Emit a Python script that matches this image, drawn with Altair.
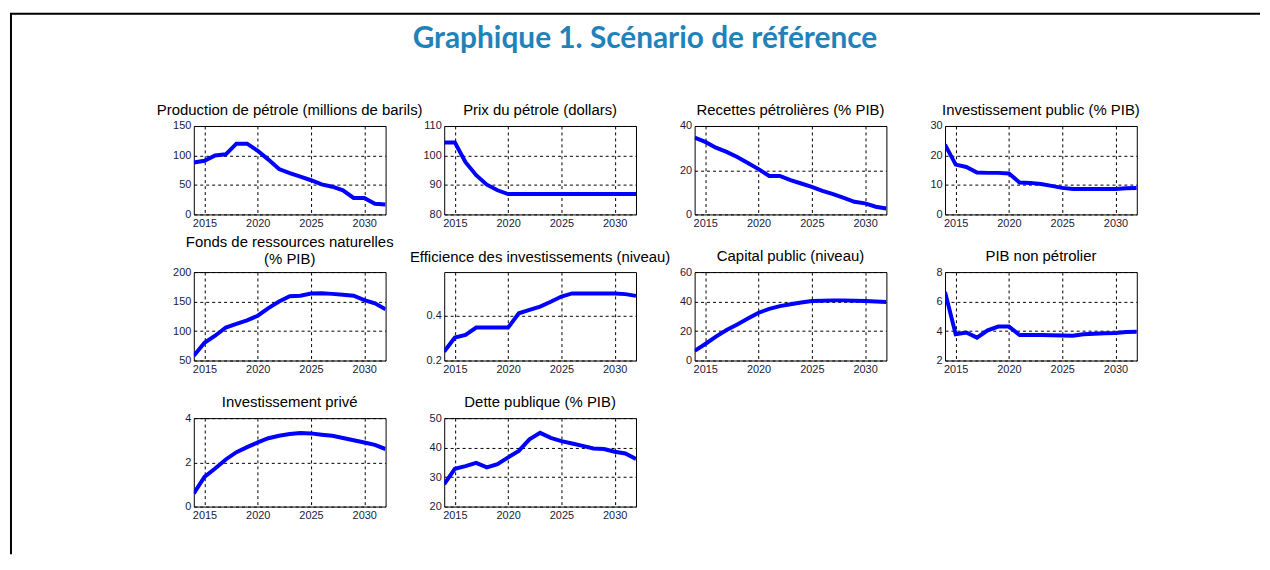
import altair as alt
import pandas as pd

years = list(range(2014, 2033))

titles = [
    "Production de pétrole (millions de barils)",
    "Prix du pétrole (dollars)",
    "Recettes pétrolières (% PIB)",
    "Investissement public (% PIB)",
    ["Fonds de ressources naturelles", "(% PIB)"],
    "Efficience des investissements (niveau)",
    "Capital public (niveau)",
    "PIB non pétrolier",
    "Investissement privé",
    "Dette publique (% PIB)",
]

production = [88, 91, 100, 102, 120, 120, 108, 93, 77, 70, 64, 58, 51, 47, 41, 28, 28, 18, 17]
prix = [104.4, 104.4, 97.7, 93.3, 90.1, 88.2, 86.9, 86.9, 86.9, 86.9, 86.9, 86.9, 86.9, 86.9, 86.9, 86.9, 86.9, 86.9, 86.9]
recettes = [34.7, 32.8, 30.2, 28.3, 26.0, 23.3, 20.5, 17.4, 17.4, 15.5, 14.0, 12.5, 10.7, 9.2, 7.5, 5.7, 5.0, 3.5, 2.7]
inv_public = [23.7, 16.9, 16.1, 14.2, 14.1, 14.1, 13.9, 10.8, 10.7, 10.3, 9.7, 9.0, 8.6, 8.6, 8.6, 8.6, 8.6, 8.9, 9.0]
fonds = [58, 80, 92, 106, 112, 118, 126, 139, 150, 159, 160, 163.5, 164, 163, 161.5, 160, 152.5, 147, 137]
efficience = [0.24, 0.303, 0.315, 0.348, 0.348, 0.348, 0.348, 0.412, 0.427, 0.442, 0.464, 0.487, 0.501, 0.501, 0.501, 0.501, 0.501, 0.498, 0.49]
capital = [6.5, 11.2, 16.2, 20.7, 24.5, 28.5, 32.4, 35.0, 36.9, 38.2, 39.3, 40.3, 40.5, 40.8, 40.8, 40.5, 40.3, 40.0, 39.7]
pib_np = [6.65, 3.78, 3.9, 3.55, 4.05, 4.3, 4.3, 3.73, 3.73, 3.73, 3.72, 3.7, 3.68, 3.78, 3.82, 3.85, 3.87, 3.93, 3.95]
inv_prive = [0.6, 1.34, 1.72, 2.13, 2.46, 2.69, 2.9, 3.09, 3.2, 3.28, 3.33, 3.31, 3.25, 3.2, 3.1, 3.0, 2.9, 2.79, 2.6]
dette = [27.6, 32.8, 33.7, 34.8, 33.3, 34.4, 36.7, 38.9, 42.8, 45.0, 43.3, 42.2, 41.4, 40.6, 39.7, 39.5, 38.6, 38.0, 36.1]

series = [production, prix, recettes, inv_public, fonds, efficience, capital, pib_np, inv_prive, dette]
y_domains = [[0, 150], [80, 110], [0, 40], [0, 30], [50, 200], [0.2, 0.597], [0, 60], [2, 8], [0, 4], [20, 50]]
y_ticks = [[0, 50, 100, 150], [80, 90, 100, 110], [0, 20, 40], [0, 10, 20, 30], [50, 100, 150, 200],
           [0.2, 0.4], [0, 20, 40, 60], [2, 4, 6, 8], [0, 2, 4], [20, 30, 40, 50]]
y_formats = ["d", "d", "d", "d", "d", ".1f", "d", "d", "d", "d"]
x_ticks = [2015, 2020, 2025, 2030]

main_title = "Graphique 1. Scénario de référence"

W, H = 193, 89
FONT = "Liberation Sans"

panels = []
for i, (t, vals) in enumerate(zip(titles, series)):
    df = pd.DataFrame({"annee": years, "valeur": vals})
    line = alt.Chart(df).mark_line(color="#0000ff", strokeWidth=4, clip=True).encode(
        x=alt.X("annee:Q", scale=alt.Scale(domain=[2014, 2032], nice=False, zero=False),
                axis=alt.Axis(values=x_ticks, format="d", title=None)),
        y=alt.Y("valeur:Q", scale=alt.Scale(domain=y_domains[i], nice=False, zero=False),
                axis=alt.Axis(values=y_ticks[i], format=y_formats[i], title=None)),
    )
    if i == 5:
        off = -5
    elif i == 4:
        off = -13
    else:
        off = -9.5
    ch = line.properties(
        width=W, height=H,
        title=alt.TitleParams(t, font=FONT, fontSize=15, fontWeight="normal", color="black",
                              anchor="middle", offset=off, baseline="alphabetic",
                              lineHeight=17),
    )
    panels.append(ch)

# decoration panel (frame and main heading), placed in the empty grid cell
dummy = pd.DataFrame({"k": [0]})
frame_left = alt.Chart(dummy).mark_rule(color="black", strokeWidth=2, strokeCap="butt").encode(
    x=alt.value(-688), y=alt.value(-407), y2=alt.value(137))
frame_top = alt.Chart(dummy).mark_rule(color="black", strokeWidth=2, strokeCap="butt").encode(
    x=alt.value(-689), x2=alt.value(569), y=alt.value(-407))
head = alt.Chart(dummy).mark_text(
    text=main_title, font="Lato", fontWeight="bold", fontSize=30, color="#1f82b8",
    align="center", baseline="middle").encode(x=alt.value(-50), y=alt.value(-382))
deco = alt.layer(frame_left, frame_top, head).properties(
    width=1, height=1, view=alt.ViewBackground(stroke="transparent"))
panels.append(deco)

chart = alt.concat(*panels, columns=4, spacing={"row": 58, "column": 59}, bounds="flush").properties(
    padding={"left": 0, "top": 2, "right": 0, "bottom": 0}
).configure_view(stroke="black", strokeWidth=1).configure_axis(
    grid=True, gridColor="black", gridDash=[3, 3], gridOpacity=1, gridWidth=1,
    domain=False, ticks=False, labelFont=FONT, labelFontSize=11, labelColor="#1a1a3a",
    labelPadding=3, labelFlush=False, labelOverlap=False,
)

chart.save("out.html", embed_options={"renderer": "svg", "actions": False})
